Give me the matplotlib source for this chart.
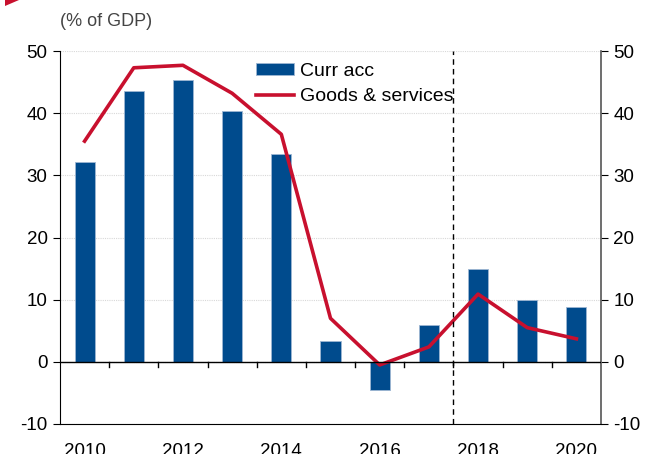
import numpy as np
import matplotlib.pyplot as plt
from matplotlib.patches import Polygon

plt.rcParams['font.family'] = ['Liberation Sans', 'DejaVu Sans']
plt.rcParams['axes.unicode_minus'] = False

years = [2010, 2011, 2012, 2013, 2014, 2015, 2016, 2017, 2018, 2019, 2020]
curr_acc = [32.2, 43.6, 45.4, 40.3, 33.4, 3.4, -4.6, 5.9, 15.0, 10.0, 8.9]
goods_services = [35.5, 47.3, 47.7, 43.2, 36.6, 7.0, -0.5, 2.4, 10.9, 5.5, 3.7]
tick_labels = ['2010', '2012', '2014', '2016', '2018', '2020']

blue = '#004B8D'
red = '#C8102E'

fig = plt.figure(figsize=(6.51, 4.54), dpi=100)
ax = fig.add_axes([60/651, 1 - 424/454, 541/651, 373/454])

x = np.arange(len(years))
bars = ax.bar(x, curr_acc, width=0.41, color=blue, edgecolor='#9db6d3', linewidth=0.6,
              label='Curr acc', zorder=2)
line, = ax.plot(x, goods_services, color=red, lw=2.6, label='Goods & services', zorder=3)

ax.set_xlim(-0.5, len(years) - 0.5)
ax.set_ylim(-10, 50)
ax.set_yticks(range(-10, 51, 10))
ax.tick_params(axis='y', labelsize=13.5, length=5, direction='out', pad=4,
               left=True, right=True, labelleft=True, labelright=True)
ax.set_xticks(x[::2])
ax.set_xticklabels(tick_labels)
ax.tick_params(axis='x', length=0, labelsize=13.5, pad=14)

# zero line with boundary ticks
ax.axhline(0, color='black', lw=1.0, zorder=4)
for b in np.arange(0.5, len(years) - 1, 1.0):
    ax.plot([b, b], [0, -0.85], color='black', lw=1.0, zorder=4, clip_on=False)

ax.grid(axis='y', color='#d8d8d8', lw=0.8, ls=(0, (1, 1)), zorder=0)
ax.axvline(7.5, color='black', lw=1.0, ls=(0, (4, 3)), zorder=4)

ax.spines['top'].set_visible(False)
ax.spines['left'].set_color('black')
ax.spines['bottom'].set_color('black')
ax.spines['right'].set_color('#555555')
ax.spines['right'].set_linewidth(1.2)

ax.legend([bars, line], ['Curr acc', 'Goods & services'], loc='upper left',
          bbox_to_anchor=(0.34, 1.0), frameon=False,
          fontsize=14, handlelength=2.0, handleheight=0.6, labelspacing=0.45,
          handletextpad=0.3, borderaxespad=0.2)

fig.text(60/651, 1 - 22/454, '(% of GDP)', fontsize=13, color='#444444',
         va='center', ha='left')

fig.patches.append(Polygon([[5/651, 1], [19/651, 1], [5/651, 1 - 6/454]],
                           closed=True, transform=fig.transFigure,
                           facecolor=red, edgecolor='none'))

fig.savefig('out.png', dpi=100)
